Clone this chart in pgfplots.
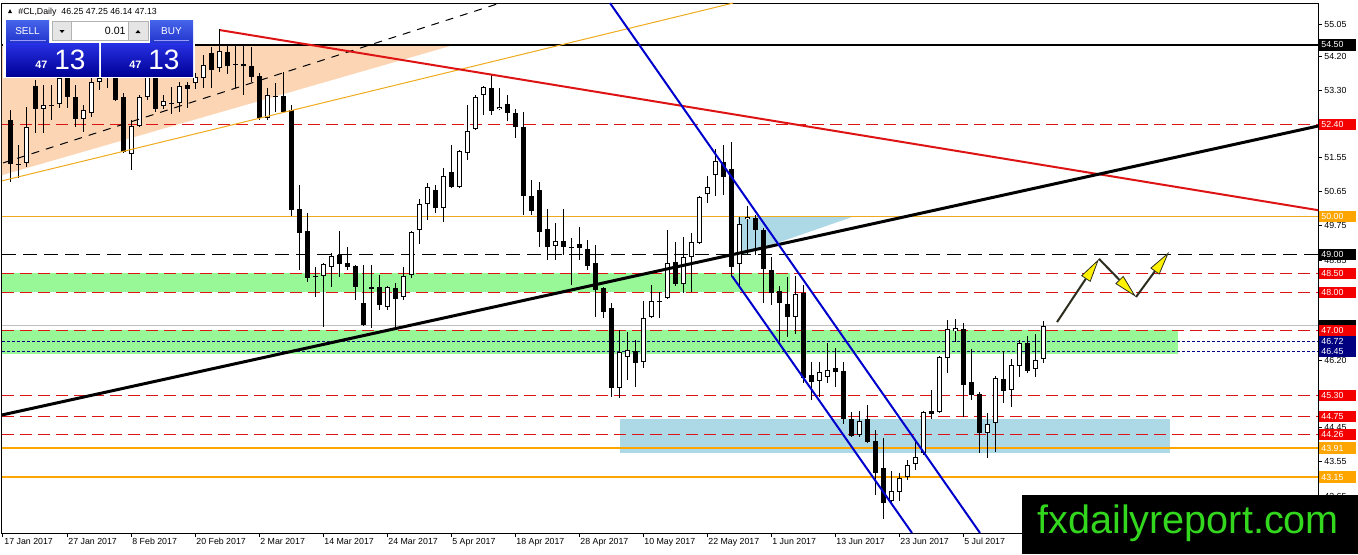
\documentclass[border=0pt]{standalone}
\usepackage{pgfplots}
\pgfplotsset{compat=1.18}
\usepackage{pgfplotstable}
\usepackage{fontspec}
\setmainfont{Liberation Sans}
\usetikzlibrary{arrows.meta}

\definecolor{mtred}{RGB}{222,20,20}
\definecolor{boxred}{RGB}{245,0,0}
\definecolor{mtorange}{RGB}{255,165,0}
\definecolor{thinorange}{RGB}{240,170,30}
\definecolor{peach}{RGB}{252,214,180}
\definecolor{mtgreen}{RGB}{152,248,152}
\definecolor{mtlblue}{RGB}{173,216,230}
\definecolor{mtblue}{RGB}{0,0,205}
\definecolor{mtnavy}{RGB}{0,0,128}
\definecolor{wmgreen}{RGB}{50,215,30}
\definecolor{arrowdark}{RGB}{45,45,30}
\definecolor{btntop}{RGB}{70,100,235}
\definecolor{btnbot}{RGB}{35,55,205}
\definecolor{pantop}{RGB}{40,50,228}
\definecolor{panbot}{RGB}{0,0,150}

\newcommand\fs{\fontsize{4.4pt}{5pt}\selectfont}

% bullish candles: bar index, open, high, low, close
\pgfplotstableread{
j o h l c
3 51.40 52.86 51.30 52.34
5 52.82 53.45 52.19 52.92
7 52.95 53.71 52.85 53.63
10 52.55 52.92 52.21 52.79
11 52.71 53.63 52.61 53.53
12 53.53 53.84 53.32 53.63
13 53.63 53.95 53.37 53.84
16 51.63 52.53 51.21 52.37
17 52.37 53.18 52.34 53.13
18 53.13 53.84 53.05 53.66
20 52.90 53.18 52.82 53.03
22 52.97 53.53 52.74 53.42
24 53.50 53.76 53.34 53.66
25 53.63 54.24 53.37 53.97
27 53.89 54.92 53.79 54.34
33 52.58 53.37 52.53 53.18
40 48.43 48.77 47.09 48.75
41 48.67 49.03 48.14 48.96
48 47.62 48.17 47.54 48.14
50 47.88 48.67 47.80 48.43
51 48.46 49.61 48.38 49.59
52 49.64 50.45 49.27 50.32
53 50.32 50.87 49.90 50.77
55 50.22 51.27 49.85 51.06
57 50.77 51.74 50.74 51.71
58 51.66 52.92 51.48 52.24
59 52.29 53.18 52.26 53.13
60 53.18 53.42 52.66 53.39
62 52.82 53.37 52.80 52.87
69 49.22 49.82 48.85 49.35
77 45.49 47.01 45.23 46.43
78 46.30 46.96 45.70 46.49
80 46.17 47.77 46.01 47.33
81 47.35 48.19 47.33 47.77
83 47.85 49.64 47.83 48.77
85 48.22 49.45 47.98 48.93
86 48.93 49.56 48.01 49.32
87 49.30 50.52 49.28 50.50
88 50.58 51.06 50.35 50.77
89 51.08 51.77 50.53 51.45
92 48.75 49.98 48.14 49.80
93 49.93 50.27 48.98 49.98
99 47.35 48.43 46.91 47.96
102 45.67 46.17 45.25 45.91
103 45.78 46.67 45.62 45.96
107 44.25 44.88 44.20 44.62
111 42.52 43.31 42.47 42.78
112 42.76 43.25 42.52 43.12
113 43.15 43.60 43.07 43.46
114 43.49 44.07 43.33 43.67
115 43.78 44.88 43.73 44.86
117 44.86 46.33 44.83 46.30
118 46.28 47.27 45.88 47.04
119 46.98 47.30 46.70 47.06
123 44.31 44.83 43.65 44.54
124 44.57 45.80 43.81 45.75
126 45.43 46.25 44.99 46.09
127 46.07 46.75 45.78 46.67
129 45.99 46.91 45.78 46.22
130 46.25 47.25 46.14 47.13
}\upc

% bearish candles (and dojis)
\pgfplotstableread{
j o h l c
1 52.53 52.79 50.90 51.37
2 51.38 51.87 51.00 51.36
4 53.42 53.58 52.19 52.82
6 52.93 53.45 52.53 52.91
8 53.63 53.79 52.85 53.13
9 53.13 53.45 52.34 52.55
14 53.74 53.90 53.03 53.05
15 53.13 53.24 51.66 51.69
19 53.74 53.90 52.74 52.82
21 52.98 53.39 52.69 52.96
23 53.45 53.53 52.84 53.34
26 54.29 54.45 53.37 53.84
28 54.31 54.50 53.74 53.95
29 54.00 54.50 53.37 53.98
30 53.99 54.50 53.18 53.97
31 53.95 54.45 53.53 53.66
32 53.68 53.76 52.53 52.58
34 53.17 53.50 52.74 53.15
35 53.16 53.79 52.71 52.74
36 52.79 52.92 50.01 50.16
37 50.19 50.82 48.59 49.56
38 49.61 50.08 48.27 48.38
39 48.44 48.67 47.88 48.42
42 48.98 49.61 48.40 48.75
43 48.77 49.19 48.59 48.67
44 48.69 48.72 47.80 48.14
45 47.72 48.72 47.12 47.14
46 48.13 48.72 47.07 48.11
47 48.14 48.45 47.54 47.67
49 48.11 48.25 47.07 47.83
54 50.69 50.82 50.08 50.22
56 51.16 51.87 50.74 50.77
61 53.37 53.71 52.66 52.76
63 52.95 53.18 52.50 52.71
64 52.71 52.82 52.05 52.34
65 52.34 52.74 50.03 50.53
66 50.53 50.95 50.03 50.14
67 50.69 50.90 49.19 49.59
68 49.66 50.19 48.85 49.19
70 49.35 50.19 48.98 49.19
71 49.20 49.43 48.19 49.18
72 49.27 49.72 48.85 49.17
73 49.14 49.38 48.59 48.69
74 48.77 49.24 47.35 48.06
75 48.11 48.14 47.33 47.48
76 47.59 47.72 45.25 45.49
79 46.46 46.75 45.51 46.14
82 47.78 48.01 47.33 47.76
84 48.80 49.32 48.17 48.22
90 51.42 51.87 50.56 51.03
91 51.24 51.95 48.40 48.67
94 49.95 50.03 48.98 49.64
95 49.64 49.69 47.72 48.61
96 48.59 48.93 47.67 47.98
97 48.04 48.17 46.70 47.72
98 47.69 48.40 46.83 47.35
100 47.98 48.19 45.62 45.75
101 45.83 46.17 45.17 45.65
104 46.01 46.54 45.51 45.91
105 45.93 46.17 44.54 44.67
106 44.67 44.86 44.20 44.23
108 44.67 45.04 44.04 44.07
109 44.09 44.38 42.68 43.25
110 43.39 44.17 42.04 42.47
116 44.88 45.43 44.67 44.80
120 47.04 47.20 44.73 45.57
121 45.65 46.51 45.17 45.30
122 45.33 45.38 43.78 44.31
125 45.72 46.46 45.09 45.41
128 46.67 46.85 45.88 45.93
}\downc

\tikzset{lbl/.style={anchor=west, text=white, font=\fs, inner xsep=1pt, inner ysep=0pt,
  minimum height=5.6pt, text width=16.5pt, align=left, xshift=0.5pt}}
\pgfplotsset{candle/.style={draw=none, mark=none, error bars/.cd, y dir=both, y explicit, error mark=none}}

\begin{document}
\begin{tikzpicture}
\useasboundingbox (0,0) rectangle (679pt,277pt);
\fill[white] (0,0) rectangle (679pt,277pt);
\begin{axis}[
  at={(1pt,10.5pt)}, anchor=south west,
  scale only axis, width=658pt, height=265pt,
  xmin=-0.125, xmax=164.375, ymin=41.679, ymax=55.602,
  clip=false,
  axis line style={line width=0.5pt, black},
  tick align=outside, major tick length=2pt,
  tick style={line width=0.5pt, black},
  xtick pos=bottom, ytick pos=right, yticklabel pos=right,
  xtick={0,8,...,120},
  xticklabels={17 Jan 2017,27 Jan 2017,8 Feb 2017,20 Feb 2017,2 Mar 2017,14 Mar 2017,24 Mar 2017,5 Apr 2017,18 Apr 2017,28 Apr 2017,10 May 2017,22 May 2017,1 Jun 2017,13 Jun 2017,23 Jun 2017,5 Jul 2017},
  xticklabel style={anchor=north west, inner sep=0.5pt, font=\fs},
  ytick={55.05,54.20,53.30,51.55,50.65,49.75,48.85,46.20,44.45,43.55,42.65},
  yticklabels={55.05,54.20,53.30,51.55,50.65,49.75,48.85,46.20,44.45,43.55,42.65},
  yticklabel style={anchor=west, inner sep=1pt, font=\fs},
]
% ---- filled zones ----
\addplot[fill=peach, draw=none] coordinates {(-0.125,54.52) (55.875,54.47) (-0.125,51.08)} --cycle;
\addplot[fill=mtgreen, draw=none] coordinates {(-0.125,48.50) (98.375,48.50) (98.375,48.00) (-0.125,48.00)} --cycle;
\addplot[fill=mtgreen, draw=none] coordinates {(-0.125,47.02) (146.875,47.02) (146.875,46.38) (-0.125,46.38)} --cycle;
\addplot[fill=mtlblue, draw=none] coordinates {(77.125,44.67) (145.875,44.67) (145.875,43.77) (77.125,43.77)} --cycle;
\addplot[fill=mtlblue, draw=none] coordinates {(91.875,49.98) (106.125,49.98) (92.125,48.96)} --cycle;
% ---- horizontal levels ----
\addplot[black, line width=1pt] coordinates {(-0.125,54.50) (164.375,54.50)};
\addplot[mtred, line width=0.5pt, dash pattern=on 6pt off 3pt] coordinates {(-0.125,52.40) (164.375,52.40)};
\addplot[thinorange, line width=0.5pt] coordinates {(-0.125,50.00) (164.375,50.00)};
\addplot[black, line width=0.5pt, dash pattern=on 7pt off 3.5pt] coordinates {(-0.125,49.00) (164.375,49.00)};
\addplot[mtred, line width=0.5pt, dash pattern=on 6pt off 3pt] coordinates {(-0.125,48.50) (164.375,48.50)};
\addplot[mtred, line width=0.5pt, dash pattern=on 6pt off 3pt] coordinates {(-0.125,48.00) (164.375,48.00)};
\addplot[black!25, line width=0.5pt] coordinates {(-0.125,47.13) (164.375,47.13)};
\addplot[mtred, line width=0.5pt, dash pattern=on 6pt off 3pt] coordinates {(-0.125,47.00) (164.375,47.00)};
\addplot[mtnavy, line width=0.5pt, dash pattern=on 1.5pt off 1pt] coordinates {(-0.125,46.72) (164.375,46.72)};
\addplot[mtnavy, line width=0.5pt, dash pattern=on 1.5pt off 1pt] coordinates {(-0.125,46.45) (164.375,46.45)};
\addplot[mtred, line width=0.5pt, dash pattern=on 6pt off 3pt] coordinates {(-0.125,45.30) (164.375,45.30)};
\addplot[mtred, line width=0.5pt, dash pattern=on 6pt off 3pt] coordinates {(-0.125,44.75) (164.375,44.75)};
\addplot[mtred, line width=0.5pt, dash pattern=on 6pt off 3pt] coordinates {(-0.125,44.26) (164.375,44.26)};
\addplot[mtorange, line width=1pt] coordinates {(-0.125,43.91) (164.375,43.91)};
\addplot[mtorange, line width=1pt] coordinates {(-0.125,43.15) (164.375,43.15)};
% ---- candles: wicks ----
\addplot[candle, error bar style={draw=black, line width=0.5pt}]
  table[x=j, y expr={(\thisrow{h}+\thisrow{l})/2}, y error expr={(\thisrow{h}-\thisrow{l})/2}] {\upc};
\addplot[candle, error bar style={draw=black, line width=0.5pt}]
  table[x=j, y expr={(\thisrow{h}+\thisrow{l})/2}, y error expr={(\thisrow{h}-\thisrow{l})/2}] {\downc};
% ---- candles: bodies ----
\addplot[candle, error bar style={draw=black, line width=2.5pt}]
  table[x=j, y expr={(\thisrow{o}+\thisrow{c})/2}, y error expr={abs(\thisrow{o}-\thisrow{c})/2}] {\downc};
\addplot[candle, error bar style={draw=black, line width=2.5pt}]
  table[x=j, y expr={(\thisrow{o}+\thisrow{c})/2}, y error expr={abs(\thisrow{c}-\thisrow{o})/2}] {\upc};
\addplot[candle, error bar style={draw=white, line width=1.5pt}]
  table[x=j, y expr={(\thisrow{o}+\thisrow{c})/2}, y error expr={max((\thisrow{c}-\thisrow{o})/2-0.027,0.002)}] {\upc};
% ---- trend lines ----
\addplot[black, line width=0.5pt, dash pattern=on 4pt off 3.5pt] coordinates {(0,51.40) (62.125,55.60)};
\addplot[thinorange, line width=0.5pt] coordinates {(-0.125,50.93) (91.25,55.60)};
\addplot[mtred, line width=1pt] coordinates {(27.125,54.89) (164.375,50.16)};
\addplot[black, line width=1.5pt] coordinates {(-0.125,44.78) (164.375,52.37)};
\addplot[mtblue, line width=1pt] coordinates {(75.875,55.60) (122.125,41.68)};
\addplot[mtblue, line width=1pt] coordinates {(91.125,48.43) (113.625,41.68)};
% ---- projected path arrows ----
\addplot[arrowdark, line width=1pt, -{Triangle[length=12pt,width=5.5pt,fill=yellow,line width=0.4pt]}] coordinates {(131.75,47.22) (137.0,48.88)};
\addplot[arrowdark, line width=1pt, -{Triangle[length=12pt,width=5.5pt,fill=yellow,line width=0.4pt]}] coordinates {(137.0,48.88) (141.625,47.88)};
\addplot[arrowdark, line width=1pt, -{Triangle[length=12pt,width=5.5pt,fill=yellow,line width=0.4pt]}] coordinates {(141.625,47.88) (145.75,49.06)};
% ---- anchors for right-hand price boxes ----
\coordinate (L5450) at (axis cs:164.375,54.50);
\coordinate (L5240) at (axis cs:164.375,52.40);
\coordinate (L5000) at (axis cs:164.375,50.00);
\coordinate (L4900) at (axis cs:164.375,49.00);
\coordinate (L4850) at (axis cs:164.375,48.50);
\coordinate (L4800) at (axis cs:164.375,48.00);
\coordinate (L4713) at (axis cs:164.375,47.13);
\coordinate (L4700) at (axis cs:164.375,47.00);
\coordinate (L4672) at (axis cs:164.375,46.72);
\coordinate (L4645) at (axis cs:164.375,46.45);
\coordinate (L4530) at (axis cs:164.375,45.30);
\coordinate (L4475) at (axis cs:164.375,44.75);
\coordinate (L4426) at (axis cs:164.375,44.26);
\coordinate (L4391) at (axis cs:164.375,43.91);
\coordinate (L4315) at (axis cs:164.375,43.15);
\end{axis}
% ---- price boxes ----
\node[lbl, fill=black] at (L5450) {54.50};
\node[lbl, fill=boxred] at (L5240) {52.40};
\node[lbl, fill=mtorange] at (L5000) {50.00};
\node[lbl, fill=black] at (L4900) {49.00};
\node[lbl, fill=boxred] at (L4850) {48.50};
\node[lbl, fill=boxred] at (L4800) {48.00};
\node[lbl, fill=black] at (L4713) {\phantom{47.13}};
\node[lbl, fill=boxred] at (L4700) {47.00};
\node[lbl, fill=mtnavy] at (L4672) {46.72};
\node[lbl, fill=mtnavy] at (L4645) {46.45};
\node[lbl, fill=boxred] at (L4530) {45.30};
\node[lbl, fill=boxred] at (L4475) {44.75};
\node[lbl, fill=boxred] at (L4426) {44.26};
\node[lbl, fill=mtorange] at (L4391) {43.91};
\node[lbl, fill=mtorange] at (L4315) {43.15};
% ---- trading widget, header and watermark (pixel coordinates, y down) ----
\begin{scope}[shift={(0,277pt)}, x=0.5pt, y=-0.5pt]
  \fill[black] (8,13) -- (12,13) -- (10,9) -- cycle;
  \node[anchor=base west, inner sep=0, font=\fs] at (18,14) {\#CL,Daily\ \ 46.25 47.25 46.14 47.13};
  \fill[white] (3,18) rectangle (195,78);
  \shade[top color=btntop, bottom color=btnbot] (6,20) rectangle (49,42);
  \draw[white!60!blue, line width=0.4pt] (10,40.5) -- (46,40.5);
  \node[font=\fontsize{5pt}{6pt}\selectfont, text=white, inner sep=0] at (27.5,31) {SELL};
  \filldraw[fill=black!10, draw=black!30, line width=0.3pt] (52,21) rectangle (71,40);
  \fill[black] (59.5,30) -- (64.5,30) -- (62,33) -- cycle;
  \filldraw[fill=white, draw=black!30, line width=0.3pt] (71,21) rectangle (128,40);
  \node[anchor=east, font=\fontsize{5.3pt}{6pt}\selectfont, inner sep=0] at (126,31) {0.01};
  \filldraw[fill=black!10, draw=black!30, line width=0.3pt] (128,21) rectangle (148,40);
  \fill[black] (135.5,33) -- (140.5,33) -- (138,30) -- cycle;
  \shade[top color=btntop, bottom color=btnbot] (150,20) rectangle (193,42);
  \draw[white!60!blue, line width=0.4pt] (154,40.5) -- (189,40.5);
  \node[font=\fontsize{5pt}{6pt}\selectfont, text=white, inner sep=0] at (171.5,31) {BUY};
  \shade[top color=pantop, bottom color=panbot] (6,43) rectangle (99,76);
  \shade[top color=pantop, bottom color=panbot] (101,43) rectangle (193,76);
  \node[anchor=base west, inner sep=0, text=white, font=\bfseries\fontsize{5.4pt}{6pt}\selectfont] at (35,68.5) {47};
  \node[anchor=base west, inner sep=0, text=white, font=\fontsize{14pt}{15pt}\selectfont] at (54,69.5) {13};
  \node[anchor=base west, inner sep=0, text=white, font=\bfseries\fontsize{5.4pt}{6pt}\selectfont] at (129,68.5) {47};
  \node[anchor=base west, inner sep=0, text=white, font=\fontsize{14pt}{15pt}\selectfont] at (148,69.5) {13};
  \fill[black] (1022,495) rectangle (1358,554);
  \node[anchor=base west, inner sep=0, text=wmgreen, font=\fontsize{19.8pt}{21pt}\selectfont] at (1037,533) {fxdailyreport.com};
\end{scope}
\end{tikzpicture}
\end{document}
